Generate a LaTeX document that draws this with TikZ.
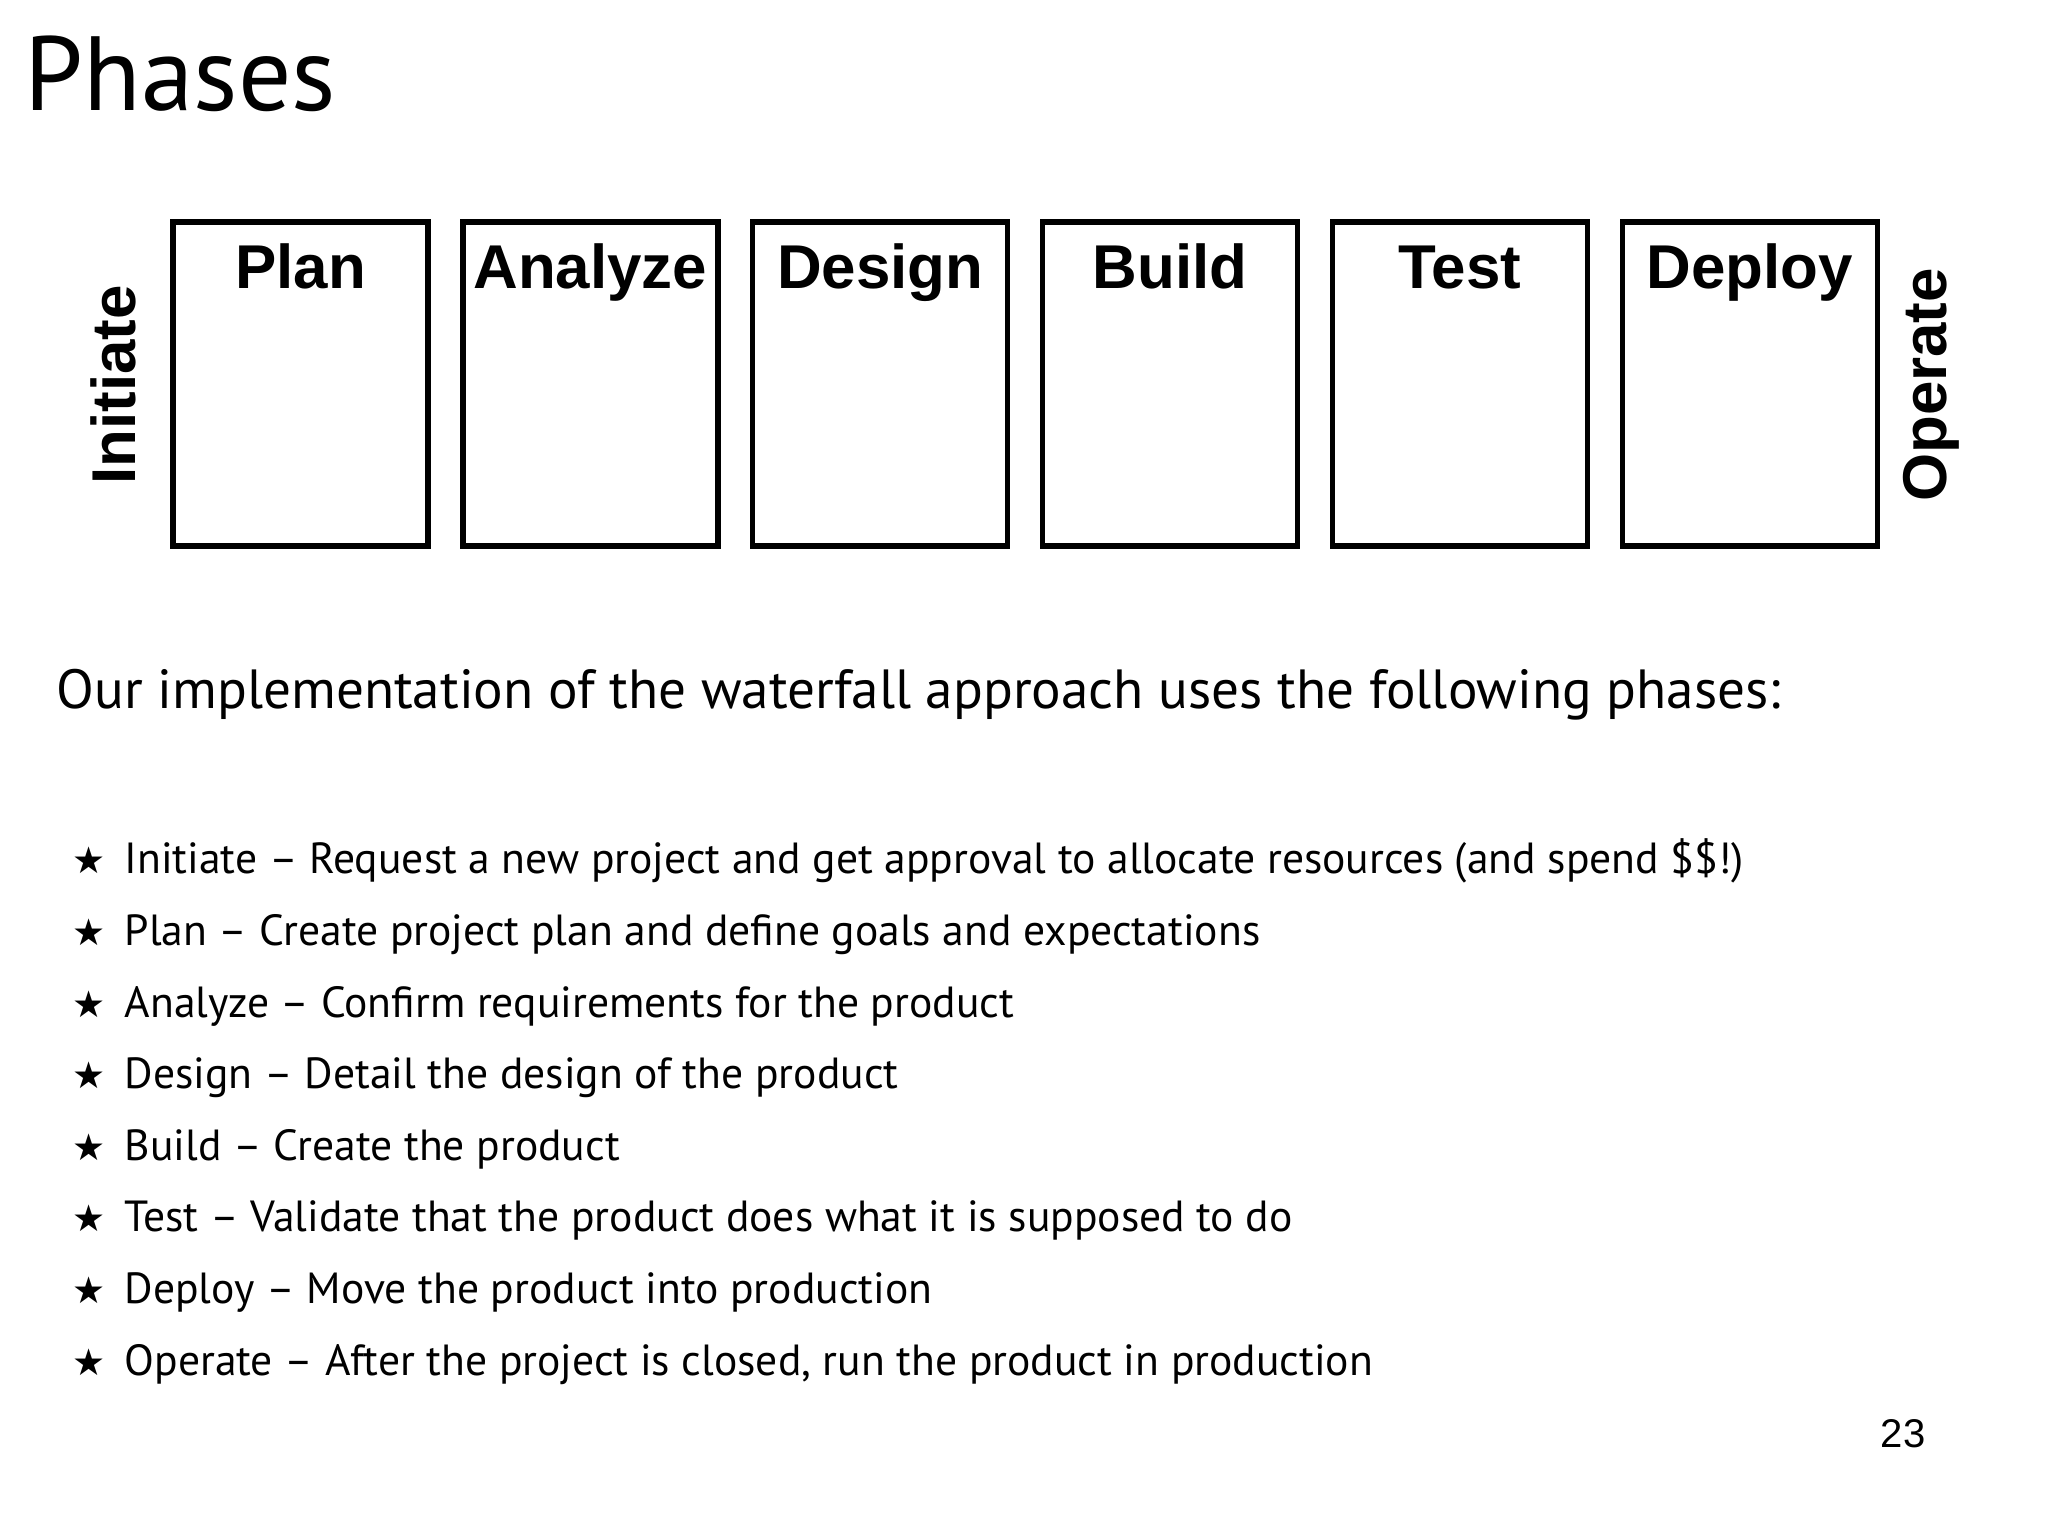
\documentclass[tikz,border=0pt]{standalone}
\usepackage{fontspec}
\setmainfont{PT Sans}
\newfontfamily\boxfont{Liberation Sans}
\newfontfamily\starfont{DejaVu Sans}
\usetikzlibrary{positioning}

\tikzset{
	phase/.style={draw, line width=1.5pt, minimum width=2.55cm,
		minimum height=3.24cm, inner sep=0pt},
	phasename/.style={font=\boxfont\bfseries\fontsize{17.6}{17.6}\selectfont,
		anchor=base, inner sep=0pt},
	sidename/.style={phasename, rotate=90},
	item/.style={anchor=base west, inner sep=0pt,
		font=\fontsize{12.4}{12.4}\selectfont},
	bullet/.style={anchor=base, inner sep=0pt,
		font=\starfont\fontsize{10.5}{10.5}\selectfont},
}

\begin{document}
\begin{tikzpicture}[node distance = 0.296cm]
		\useasboundingbox (0,0) rectangle (20.48,15.36);
		\node [anchor=base west, inner sep=0pt,
			font=\fontsize{30}{30}\selectfont] (title) at (0.24,14.25) {Phases};

		% the phase boxes
		\node [phase] (plan) at (3.005,11.52) {};
		\node [phase, right=of plan] (analyze) {};
		\node [phase, right=of analyze] (design) {};
		\node [phase, right=of design] (build) {};
		\node [phase, right=of build] (test) {};
		\node [phase, right=of test] (deploy) {};
		\node [phasename] at ([yshift=-0.69cm]plan.north) {Plan};
		\node [phasename] at ([yshift=-0.69cm]analyze.north) {Analyze};
		\node [phasename] at ([yshift=-0.69cm]design.north) {Design};
		\node [phasename] at ([yshift=-0.69cm]build.north) {Build};
		\node [phasename] at ([yshift=-0.69cm]test.north) {Test};
		\node [phasename] at ([yshift=-0.69cm]deploy.north) {Deploy};
		\node [sidename] (initiate) at (1.36,11.51) {Initiate};
		\node [sidename] (operate) at (19.46,11.51) {Operate};

		\node [anchor=base west, inner sep=0pt,
			font=\fontsize{15.7}{15.7}\selectfont] (intro) at (0.56,8.27)
			{Our implementation of the waterfall approach uses the following phases:};

		% the list
		\node [item] (itInitiate) at (1.24,6.62)
			{Initiate – Request a new project and get approval to allocate resources (and spend \$\$!)};
		\node [item] (itPlan) at ([yshift=-0.716cm]itInitiate.base west)
			{Plan – Create project plan and define goals and expectations};
		\node [item] (itAnalyze) at ([yshift=-0.716cm]itPlan.base west)
			{Analyze – Confirm requirements for the product};
		\node [item] (itDesign) at ([yshift=-0.716cm]itAnalyze.base west)
			{Design – Detail the design of the product};
		\node [item] (itBuild) at ([yshift=-0.716cm]itDesign.base west)
			{Build – Create the product};
		\node [item] (itTest) at ([yshift=-0.716cm]itBuild.base west)
			{Test – Validate that the product does what it is supposed to do};
		\node [item] (itDeploy) at ([yshift=-0.716cm]itTest.base west)
			{Deploy – Move the product into production};
		\node [item] (itOperate) at ([yshift=-0.716cm]itDeploy.base west)
			{Operate – After the project is closed, run the product in production};
		\node [bullet] at ([xshift=-0.35cm]itInitiate.base west) {★};
		\node [bullet] at ([xshift=-0.35cm]itPlan.base west) {★};
		\node [bullet] at ([xshift=-0.35cm]itAnalyze.base west) {★};
		\node [bullet] at ([xshift=-0.35cm]itDesign.base west) {★};
		\node [bullet] at ([xshift=-0.35cm]itBuild.base west) {★};
		\node [bullet] at ([xshift=-0.35cm]itTest.base west) {★};
		\node [bullet] at ([xshift=-0.35cm]itDeploy.base west) {★};
		\node [bullet] at ([xshift=-0.35cm]itOperate.base west) {★};

		\node [font=\boxfont\fontsize{11.4}{11.4}\selectfont, inner sep=0pt]
			(page) at (19.03,1.02) {23};
\end{tikzpicture}
\end{document}
